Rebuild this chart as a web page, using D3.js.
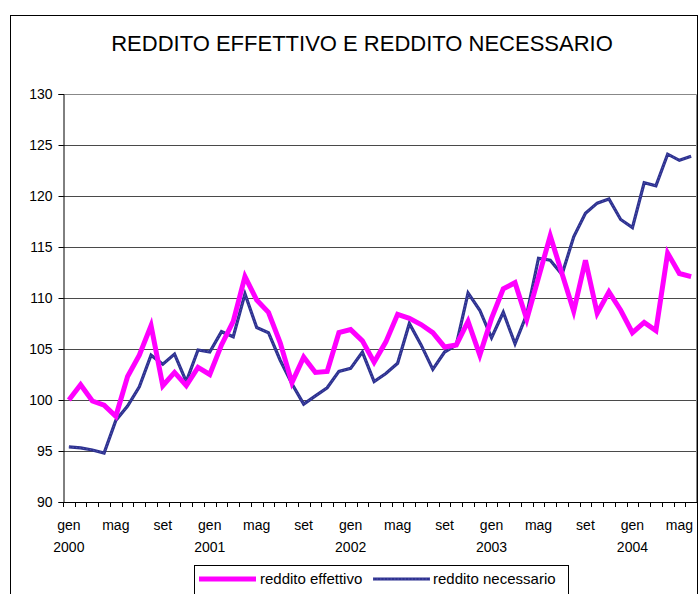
<!DOCTYPE html>
<html>
<head>
<meta charset="utf-8">
<script src="https://cdn.jsdelivr.net/npm/d3@7"></script>
<style>
  html, body { margin: 0; padding: 0; background: #fff; }
  svg { display: block; font-family: "Liberation Sans", Arial, sans-serif; }
</style>
</head>
<body>
<div id="chart"></div>
<script>
// Months and years of the category axis
const monthNames = ['gen', 'feb', 'mar', 'apr', 'mag', 'giu', 'lug', 'ago', 'set', 'ott', 'nov', 'dic'];
const years = [2000, 2001, 2002, 2003, 2004];
const labelMonths = ['gen', 'mag', 'set'];
const yTicks = [90, 95, 100, 105, 110, 115, 120, 125, 130];

const effettivo = [
  100.0, 101.5, 99.9, 99.5, 98.4, 102.3, 104.4, 107.3, 101.4, 102.7, 101.4, 103.2,
  102.5, 105.4, 107.7, 112.1, 109.8, 108.6, 105.6, 101.7, 104.2, 102.7, 102.8, 106.6,
  106.9, 105.8, 103.7, 105.7, 108.4, 108.0, 107.4, 106.6, 105.2, 105.4, 107.7, 104.4,
  108.0, 110.9, 111.5, 107.9, 112.0, 116.1, 112.4, 108.7, 113.7, 108.5, 110.6, 108.8,
  106.6, 107.6, 106.8, 114.4, 112.4, 112.1
];
const necessario = [
  95.4, 95.3, 95.1, 94.8, 98.0, 99.4, 101.3, 104.4, 103.5, 104.5, 101.8, 104.9,
  104.7, 106.7, 106.2, 110.4, 107.1, 106.6, 103.9, 101.6, 99.6, 100.4, 101.2, 102.8,
  103.1, 104.7, 101.8, 102.6, 103.6, 107.5, 105.4, 103.0, 104.7, 105.4, 110.5, 108.8,
  106.1, 108.6, 105.5, 108.4, 113.9, 113.7, 112.3, 116.0, 118.3, 119.3, 119.7, 117.7,
  116.9, 121.3, 121.0, 124.1, 123.5, 123.9
];

const categories = [];
years.forEach(y => monthNames.forEach(m => {
  if (categories.length < effettivo.length) categories.push({ key: m + ' ' + y, month: m, year: y });
}));

const W = 700, H = 594;
const plot = { left: 63, right: 697, top: 94, bottom: 502 };

const svg = d3.select('#chart').append('svg')
  .attr('width', W)
  .attr('height', H);

// Chart border
svg.append('rect')
  .attr('x', 10.5).attr('y', 15.5)
  .attr('width', 687).attr('height', 620)
  .attr('fill', '#fff')
  .attr('stroke', '#000')
  .attr('stroke-width', 1);

// Title
svg.append('text')
  .attr('x', 362).attr('y', 51)
  .attr('text-anchor', 'middle')
  .attr('font-size', '22px')
  .attr('fill', '#000')
  .text('REDDITO EFFETTIVO E REDDITO NECESSARIO');

const x = d3.scaleBand()
  .domain(categories.map(c => c.key))
  .range([plot.left, plot.right]);

const y = d3.scaleLinear()
  .domain([90, 130])
  .range([plot.bottom, plot.top]);

// Gridlines
svg.append('g')
  .selectAll('line')
  .data(yTicks.filter(t => t > 90 && t < 130))
  .enter().append('line')
  .attr('x1', plot.left).attr('x2', plot.right)
  .attr('y1', d => Math.round(y(d)) + 0.5)
  .attr('y2', d => Math.round(y(d)) + 0.5)
  .attr('stroke', '#4a4a4a')
  .attr('stroke-width', 1);

// Plot area border (top/right)
svg.append('path')
  .attr('d', `M${plot.left},${plot.top + 0.5}H${plot.right - 0.5}V${plot.bottom}`)
  .attr('fill', 'none')
  .attr('stroke', '#888')
  .attr('stroke-width', 1);

// Y axis
const yAxis = svg.append('g')
  .attr('transform', `translate(${plot.left + 0.5},0)`)
  .call(d3.axisLeft(y).tickValues(yTicks).tickSize(5).tickPadding(6));
yAxis.select('.domain').attr('stroke', '#000');
yAxis.selectAll('.tick line').attr('stroke', '#000');
yAxis.selectAll('.tick text')
  .attr('font-size', '14px')
  .attr('font-family', '"Liberation Sans", Arial, sans-serif')
  .attr('fill', '#000');

// X axis: ticks between categories
const bw = x.bandwidth();
const xAxisG = svg.append('g');
xAxisG.append('line')
  .attr('x1', plot.left).attr('x2', plot.right)
  .attr('y1', plot.bottom + 0.5).attr('y2', plot.bottom + 0.5)
  .attr('stroke', '#000');
xAxisG.selectAll('line.tk')
  .data(categories.concat([null]))
  .enter().append('line')
  .attr('class', 'tk')
  .attr('x1', (d, i) => Math.round(plot.left + i * bw) + 0.5)
  .attr('x2', (d, i) => Math.round(plot.left + i * bw) + 0.5)
  .attr('y1', plot.bottom)
  .attr('y2', plot.bottom + 5)
  .attr('stroke', '#000');

const labelled = categories.filter(c => labelMonths.includes(c.month));
xAxisG.selectAll('text.mon')
  .data(labelled)
  .enter().append('text')
  .attr('class', 'mon')
  .attr('x', d => x(d.key) + bw / 2)
  .attr('y', 530)
  .attr('text-anchor', 'middle')
  .attr('font-size', '14px')
  .text(d => d.month);
xAxisG.selectAll('text.yr')
  .data(labelled.filter(c => c.month === 'gen'))
  .enter().append('text')
  .attr('class', 'yr')
  .attr('x', d => x(d.key) + bw / 2)
  .attr('y', 552)
  .attr('text-anchor', 'middle')
  .attr('font-size', '14px')
  .text(d => d.year);

// Lines
const line = d3.line()
  .x((d, i) => x(categories[i].key) + bw / 2)
  .y(d => y(d));

svg.append('path')
  .datum(necessario)
  .attr('d', line)
  .attr('fill', 'none')
  .attr('stroke', '#2d3190')
  .attr('stroke-width', 3.2)
  .attr('stroke-linejoin', 'miter');
svg.append('path')
  .datum(necessario)
  .attr('d', line)
  .attr('fill', 'none')
  .attr('stroke', '#5a5eb4')
  .attr('stroke-width', 0.8)
  .attr('stroke-dasharray', '1.5,2');

svg.append('path')
  .datum(effettivo)
  .attr('d', line)
  .attr('fill', 'none')
  .attr('stroke', '#ff00ff')
  .attr('stroke-width', 5)
  .attr('stroke-linejoin', 'miter');

// Legend
const lg = svg.append('g');
lg.append('rect')
  .attr('x', 194.5).attr('y', 565.5)
  .attr('width', 374).attr('height', 40)
  .attr('fill', '#fff')
  .attr('stroke', '#000');
lg.append('line')
  .attr('x1', 199).attr('x2', 256).attr('y1', 579).attr('y2', 579)
  .attr('stroke', '#ff00ff').attr('stroke-width', 5);
lg.append('text')
  .attr('x', 260).attr('y', 584)
  .attr('font-size', '15px')
  .text('reddito effettivo');
lg.append('line')
  .attr('x1', 373).attr('x2', 430).attr('y1', 579).attr('y2', 579)
  .attr('stroke', '#2d3190').attr('stroke-width', 3.2);
lg.append('line')
  .attr('x1', 373).attr('x2', 430).attr('y1', 579).attr('y2', 579)
  .attr('stroke', '#5a5eb4').attr('stroke-width', 0.8).attr('stroke-dasharray', '1.5,2');
lg.append('text')
  .attr('x', 433).attr('y', 584)
  .attr('font-size', '15px')
  .text('reddito necessario');
</script>
</body>
</html>
